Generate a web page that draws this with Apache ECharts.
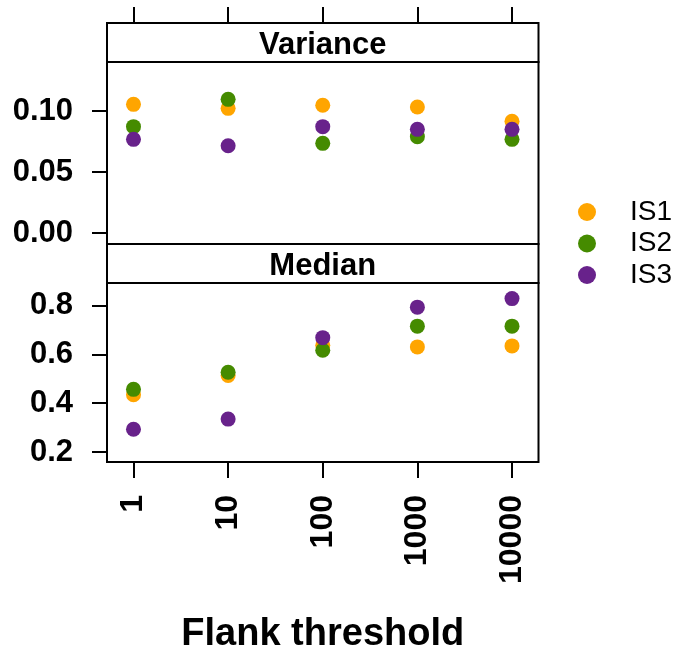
<!DOCTYPE html>
<html>
<head>
<meta charset="utf-8">
<script src="https://cdn.jsdelivr.net/npm/echarts@6/dist/echarts.min.js"></script>
<style>
  html, body { margin: 0; padding: 0; background: #fff; }
  #chart { width: 681px; height: 655px; }
</style>
</head>
<body>
<div id="chart"></div>
<script>
// data
var thresholds = ['1', '10', '100', '1000', '10000'];
var groups = ['IS1', 'IS2', 'IS3'];
var colors = ['#FFA500', '#458B00', '#68228B'];

var varIS1 = [0.1055, 0.1022, 0.1047, 0.1033, 0.0916];
var varIS2 = [0.0872, 0.1096, 0.0735, 0.0790, 0.0768];
var varIS3 = [0.0768, 0.0716, 0.0872, 0.0850, 0.0850];

var medIS1 = [0.435, 0.514, 0.638, 0.631, 0.635];
var medIS2 = [0.457, 0.527, 0.617, 0.716, 0.716];
var medIS3 = [0.293, 0.335, 0.669, 0.794, 0.829];

var varTicks = [0, 0.05, 0.10];
var medTicks = [0.2, 0.4, 0.6, 0.8];

var FONT = '"Liberation Sans", Arial, sans-serif';
var catIdx = thresholds.map(function (t, i) { return i; });

function pts(arr) {
    return arr.map(function (v, i) { return [i, v]; });
}

var myChart = echarts.init(document.getElementById('chart'));

var L = 107, W = 431.5;
var frame = { show: true, borderColor: '#000', borderWidth: 2, backgroundColor: '#fff' };
var noLine = { show: false, onZero: false };

function xAx(gi, opts) {
    return Object.assign({
        gridIndex: gi, type: 'value', min: -0.28, max: 4.28,
        axisLine: noLine, splitLine: { show: false },
        axisTick: { show: false }, axisLabel: { show: false }
    }, opts || {});
}

var series = [];
var varData = [varIS1, varIS2, varIS3];
var medData = [medIS1, medIS2, medIS3];
groups.forEach(function (g, k) {
    series.push({ name: g, type: 'scatter', xAxisIndex: 0, yAxisIndex: 0,
        data: pts(varData[k]), symbolSize: 15, itemStyle: { color: colors[k], opacity: 1 } });
});
groups.forEach(function (g, k) {
    series.push({ name: g, type: 'scatter', xAxisIndex: 1, yAxisIndex: 1,
        data: pts(medData[k]), symbolSize: 15, itemStyle: { color: colors[k], opacity: 1 } });
});

var option = {
    backgroundColor: '#fff',
    animation: false,
    grid: [
        Object.assign({ left: L, width: W, top: 62, height: 182 }, frame),   // variance plot
        Object.assign({ left: L, width: W, top: 283, height: 181 }, frame),  // median plot
        Object.assign({ left: L, width: W, top: 23, height: 39 }, frame),    // variance strip
        Object.assign({ left: L, width: W, top: 244, height: 39 }, frame)    // median strip
    ],
    xAxis: [
        xAx(0),
        xAx(1, {
            position: 'bottom',
            axisTick: { show: true, length: 16, lineStyle: { color: '#000', width: 2 }, customValues: catIdx },
            axisLabel: {
                show: true, rotate: 90, margin: 33, customValues: catIdx,
                fontFamily: FONT, fontWeight: 'bold', fontSize: 32, color: '#000',
                formatter: function (v) { return thresholds[Math.round(v)]; }
            },
            name: 'Flank threshold', nameLocation: 'middle', nameGap: 154,
            nameTextStyle: { fontFamily: FONT, fontWeight: 'bold', fontSize: 38, color: '#000' }
        }),
        xAx(2, {
            position: 'top',
            axisTick: { show: true, length: 16, lineStyle: { color: '#000', width: 2 }, customValues: catIdx }
        }),
        xAx(3)
    ],
    yAxis: [
        {
            gridIndex: 0, type: 'value', min: -0.009, max: 0.1402,
            axisLine: noLine, splitLine: { show: false },
            axisTick: { show: true, length: 15, lineStyle: { color: '#000', width: 2 }, customValues: varTicks },
            axisLabel: { margin: 34, customValues: varTicks, fontFamily: FONT, fontWeight: 'bold', fontSize: 31, color: '#000',
                formatter: function (v) { return v.toFixed(2); } }
        },
        {
            gridIndex: 1, type: 'value', min: 0.159, max: 0.893,
            axisLine: noLine, splitLine: { show: false },
            axisTick: { show: true, length: 15, lineStyle: { color: '#000', width: 2 }, customValues: medTicks },
            axisLabel: { margin: 34, customValues: medTicks, fontFamily: FONT, fontWeight: 'bold', fontSize: 31, color: '#000',
                formatter: function (v) { return v.toFixed(1); } }
        },
        { gridIndex: 2, type: 'value', show: false },
        { gridIndex: 3, type: 'value', show: false }
    ],
    legend: {
        orient: 'vertical', left: 573, top: 193, itemGap: 3.5,
        itemWidth: 18, itemHeight: 18, icon: 'circle',
        data: groups,
        textStyle: { fontFamily: FONT, fontSize: 28, color: '#000', padding: [0, 0, 0, 29] }
    },
    graphic: [
        { type: 'text', x: L + W / 2, y: 45, z: 100,
          style: { text: 'Variance', textAlign: 'center', textVerticalAlign: 'middle',
                   font: 'bold 31px ' + FONT, fill: '#000' } },
        { type: 'text', x: L + W / 2, y: 266, z: 100,
          style: { text: 'Median', textAlign: 'center', textVerticalAlign: 'middle',
                   font: 'bold 31px ' + FONT, fill: '#000' } }
    ],
    series: series
};

myChart.setOption(option, true);
</script>
</body>
</html>
